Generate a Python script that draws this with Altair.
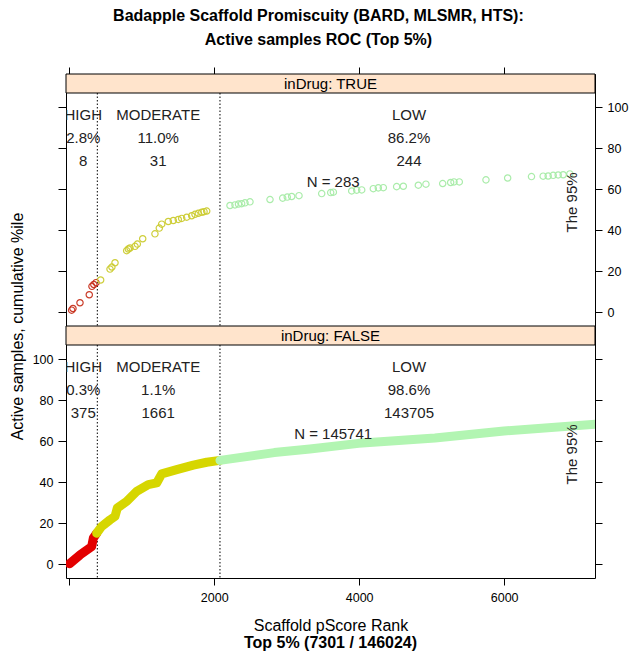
import altair as alt
import pandas as pd

FONT = "Liberation Sans"

# ---------------- data ----------------
# inDrug: TRUE  (scaffold rank vs cumulative %ile of active samples)
true_high_x = [34, 52, 149, 277, 314, 340, 370]
true_high_y = [1.1, 1.9, 4.7, 8.6, 12.7, 13.6, 14.5]
true_mod_x = [434, 563, 589, 632, 793, 816, 839, 908, 940, 1014, 1183, 1243, 1276,
              1367, 1436, 1505, 1552, 1621, 1690, 1735, 1781, 1829, 1860, 1897]
true_mod_y = [15.8, 21.1, 22.1, 24.2, 30.1, 30.9, 31.4, 32.2, 33.3, 35.9, 38.3, 41.1, 43.0,
              44.3, 44.8, 45.3, 45.8, 46.4, 47.1, 47.8, 48.3, 48.8, 49.1, 49.4]
true_low_x = [2218, 2287, 2335, 2379, 2425, 2494, 2770, 2945, 3008, 3069, 3170, 3483, 3607,
              3644, 3897, 3966, 4035, 4195, 4264, 4333, 4517, 4609, 4816, 4921, 5152, 5262,
              5308, 5381, 5749, 6048, 6377, 6538, 6607, 6676, 6745, 6814, 6906]
true_low_y = [52.1, 52.4, 52.8, 53.0, 53.4, 53.9, 55.0, 55.7, 56.2, 56.5, 56.9, 57.9, 58.4,
              58.6, 59.2, 59.6, 59.7, 60.3, 60.7, 60.8, 61.3, 61.5, 62.0, 62.5, 62.8, 63.3,
              63.6, 63.6, 64.6, 65.5, 66.2, 66.4, 66.5, 66.8, 67.0, 67.1, 67.5]

# inDrug: FALSE  (dense band, read as centre line)
false_high_x = [5, 149, 310, 333, 379]
false_high_y = [0.3, 4.6, 8.7, 12.8, 15.2]
false_mod_x = [379, 448, 563, 632, 664, 793, 931, 1091, 1207, 1276, 1483, 1712, 1897, 2080]
false_mod_y = [15.2, 18.5, 21.7, 23.4, 27.5, 30.7, 35.6, 38.9, 39.7, 44.1, 46.2, 48.4, 49.8, 50.7]
false_low_x = [2080, 2829, 3320, 3992, 5045, 5997, 7301]
false_low_y = [50.7, 54.5, 56.2, 59.0, 61.6, 65.0, 68.4]

# class boundaries (scaffold rank)
boundary_x = [388, 2080]

classes = ["HIGH", "MODERATE", "LOW"]
class_label_x = [194, 1228, 4687]
true_pct = ["2.8%", "11.0%", "86.2%"]
true_cnt = ["8", "31", "244"]
false_pct = ["0.3%", "1.1%", "98.6%"]
false_cnt = ["375", "1661", "143705"]
row_y = [96.2, 84.8, 73.8]
n_label_x = 3641
n_label_y = 63.5
true_n = "N = 283"
false_n = "N = 145741"
note_text = "The 95%"
note_x = 6935
note_y = 53.6

x_ticks = [0, 2000, 4000, 6000]
y_ticks = [0, 20, 40, 60, 80, 100]

# ---------------- layout / style ----------------
W, H, STRIP = 529, 252, 19
XDOM = [-44, 7253]
YDOM = [-6.63, 116.2]
pt_colors = ["#c8321e", "#cccc30", "#a6eca6"]
band_colors = ["#e30000", "#d6d600", "#b2f5b2"]
LFS = 12.5


def xenc(axis):
    return alt.X("x:Q", scale=alt.Scale(domain=XDOM, nice=False, zero=False), axis=axis)


def yenc(axis):
    return alt.Y("y:Q", scale=alt.Scale(domain=YDOM, nice=False, zero=False), axis=axis)


def text_df(pct, cnt, nlab):
    xs, ys, ts = [], [], []
    for i in range(3):
        xs += [class_label_x[i]] * 3
        ys += row_y
        ts += [classes[i], pct[i], cnt[i]]
    xs.append(n_label_x)
    ys.append(n_label_y)
    ts.append(nlab)
    return pd.DataFrame({"x": xs, "y": ys, "t": ts})


def panel(label, data_layers, pct, cnt, nlab, xaxis, yleft, yright, title=None):
    strip_df = pd.DataFrame({"label": [label]})
    strip = alt.Chart(strip_df).mark_rect(fill="#ffe4cc", stroke="black", strokeWidth=1).encode(
        x=alt.value(0), x2=alt.value(W), y=alt.value(0), y2=alt.value(STRIP))
    strip_t = alt.Chart(strip_df).mark_text(font=FONT, fontSize=15, color="black",
                                            baseline="middle", align="center").encode(
        x=alt.value(W / 2), y=alt.value(STRIP / 2 + 0.5), text="label:N")
    rules = alt.Chart(pd.DataFrame({"x": boundary_x})).mark_rule(
        color="black", strokeDash=[1.5, 2], strokeWidth=1).encode(
        x=xenc(xaxis), y=alt.value(STRIP), y2=alt.value(H))
    first = data_layers[0](yleft)
    rest = [f(None) for f in data_layers[1:]]
    texts = alt.Chart(text_df(pct, cnt, nlab)).mark_text(
        font=FONT, fontSize=15, color="#222222", baseline="middle", align="center", clip=True).encode(
        x=xenc(xaxis), y=yenc(yright), text="t:N")
    note = alt.Chart(pd.DataFrame({"x": [note_x], "y": [note_y], "t": [note_text]})).mark_text(
        font=FONT, fontSize=15, color="#222222", baseline="middle", align="center", angle=270).encode(
        x=xenc(xaxis), y=yenc(None), text="t:N")
    props = dict(width=W, height=H)
    if title is not None:
        props["title"] = title
    return alt.layer(strip, rules, first, *rest, texts, note, strip_t).resolve_scale(
        y="independent").properties(**props)


common = dict(domain=False, grid=False, labelFont=FONT, labelFontSize=LFS, labelColor="black",
              tickColor="black", tickWidth=1)
# top panel axes
top_x = alt.Axis(orient="top", values=x_ticks, labels=False, tickSize=7, title=None, **common)
top_yl = alt.Axis(orient="left", values=y_ticks, labels=False, tickSize=8, title=None, **common)
top_yr = alt.Axis(orient="right", values=y_ticks, tickSize=7, labelPadding=5, title=None, **common)
# bottom panel axes
bot_x = alt.Axis(orient="bottom", values=x_ticks, format="d", tickSize=7, labelPadding=6,
                 labelExpr="datum.value == 0 ? '' : datum.label",
                 title="Scaffold pScore Rank", titlePadding=14, titleFontSize=16,
                 titleFontWeight="normal", titleFont=FONT, titleColor="black", **common)
bot_yl = alt.Axis(orient="left", values=y_ticks, tickSize=8, labelPadding=5,
                  title="Active samples, cumulative %ile", titleX=-44, titleY=0,
                  titleAngle=270, titleAlign="center", titleBaseline="alphabetic",
                  titleFontSize=16, titleFontWeight="normal", titleFont=FONT, titleColor="black",
                  **common)
bot_yr = alt.Axis(orient="right", values=y_ticks, labels=False, tickSize=7, title=None, **common)

# top panel data layer (open circles)
tp = pd.DataFrame({
    "x": true_high_x + true_mod_x + true_low_x,
    "y": true_high_y + true_mod_y + true_low_y,
    "grp": ["HIGH"] * len(true_high_x) + ["MODERATE"] * len(true_mod_x) + ["LOW"] * len(true_low_x),
})


def top_points(yaxis):
    return alt.Chart(tp).mark_point(shape="circle", filled=False, size=40, strokeWidth=1.2,
                                    opacity=0.95, clip=True).encode(
        x=xenc(top_x), y=yenc(yaxis),
        color=alt.Color("grp:N", scale=alt.Scale(domain=classes, range=pt_colors), legend=None))


def band(xs, ys, col):
    def f(yaxis):
        return alt.Chart(pd.DataFrame({"x": xs, "y": ys})).mark_line(
            color=col, strokeWidth=9, strokeCap="round", strokeJoin="round", clip=True).encode(
            x=xenc(bot_x), y=yenc(yaxis))
    return f


top = panel("inDrug: TRUE", [top_points], true_pct, true_cnt, true_n, top_x, top_yl, top_yr)
bottom = panel("inDrug: FALSE",
               [band(false_high_x, false_high_y, band_colors[0]),
                band(false_mod_x, false_mod_y, band_colors[1]),
                band(false_low_x, false_low_y, band_colors[2])],
               false_pct, false_cnt, false_n, bot_x, bot_yl, bot_yr,
               title=alt.TitleParams("Top 5% (7301 / 146024)", orient="bottom", fontSize=16,
                                     fontWeight="bold", font=FONT, color="black", offset=1,
                                     anchor="middle", frame="group"))

chart = alt.VConcatChart(vconcat=[top, bottom], spacing=0, bounds="flush").properties(
    title=alt.TitleParams(["Badapple Scaffold Promiscuity (BARD, MLSMR, HTS):",
                           "Active samples ROC (Top 5%)"],
                          fontSize=16, fontWeight="bold", font=FONT, color="black",
                          lineHeight=24, offset=18, anchor="middle"),
    padding={"left": 0, "top": 0, "right": 0, "bottom": 0},
).configure(
    background="white",
    view=alt.ViewConfig(stroke="black", strokeWidth=1),
)

chart.save("out.html", embed_options={"renderer": "svg", "actions": False})
